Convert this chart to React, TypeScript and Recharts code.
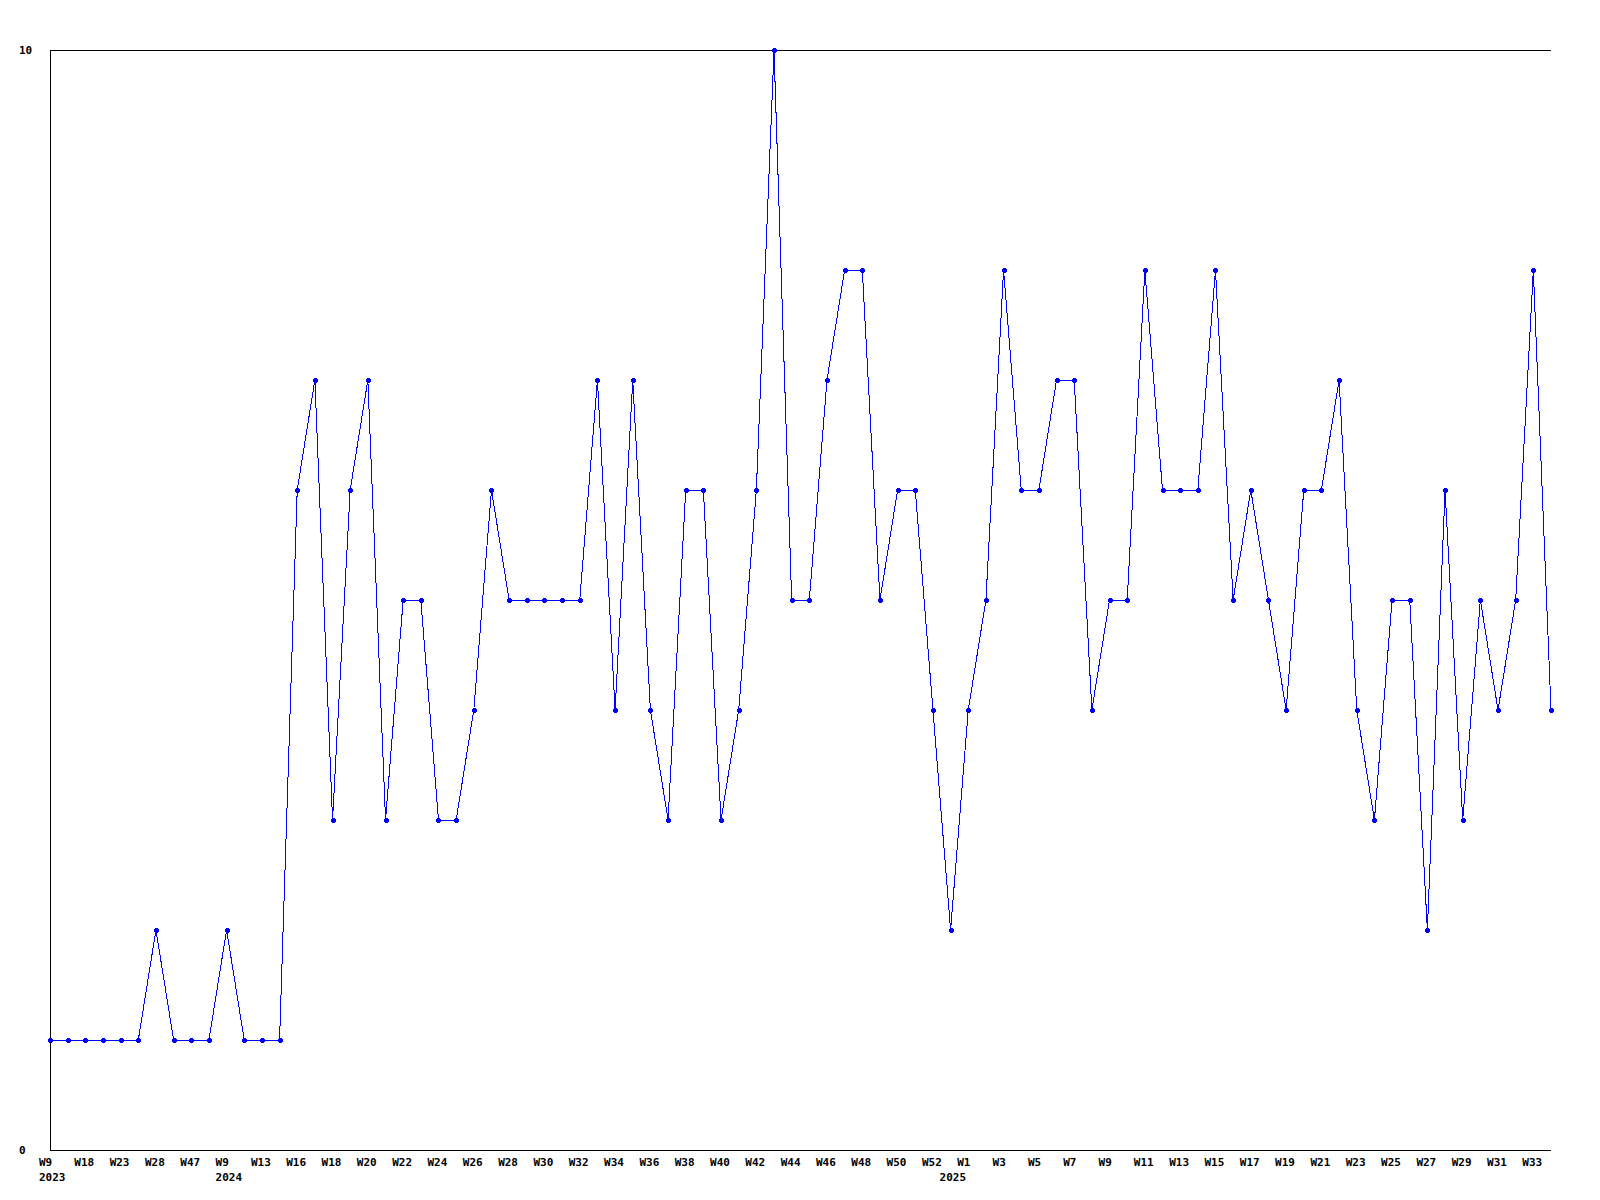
import { LineChart, Line, XAxis, YAxis, ReferenceLine } from 'recharts'

// week numbers per year, in plotting order
const weeks2023 = [9, 13, 18, 20, 23, 25, 28, 40, 47, 50]
const weeks2024 = [
  9, 11, 13, 15, 16, 17, 18, 19, 20, 21, 22, 23, 24, 25, 26, 27, 28, 29, 30, 31, 32,
  33, 34, 35, 36, 37, 38, 39, 40, 41, 42, 43, 44, 45, 46, 47, 48, 49, 50, 51, 52,
]
const weeks2025 = [
  0, 1, 2, 3, 4, 5, 6, 7, 8, 9, 10, 11, 12, 13, 14, 15, 16, 17, 18, 19, 20, 21, 22,
  23, 24, 25, 26, 27, 28, 29, 30, 31, 32, 33, 34,
]

const counts = [
  1, 1, 1, 1, 1, 1, 2, 1, 1, 1,
  2, 1, 1, 1, 6, 7, 3, 6, 7, 3,
  5, 5, 3, 3, 4, 6, 5, 5, 5, 5,
  5, 7, 4, 7, 4, 3, 6, 6, 3, 4,
  6, 10, 5, 5, 7, 8, 8, 5, 6, 6,
  4, 2, 4, 5, 8, 6, 6, 7, 7, 4,
  5, 5, 8, 6, 6, 6, 8, 5, 6, 5,
  4, 6, 6, 7, 4, 3, 5, 5, 2, 6,
  3, 5, 4, 5, 8, 4,
]

const yTicks = [0, 10]

const weekRows = [
  ...weeks2023.map((w) => ({ year: '2023', w })),
  ...weeks2024.map((w) => ({ year: '2024', w })),
  ...weeks2025.map((w) => ({ year: '2025', w })),
]

const data = weekRows.map((r, i) => ({
  week: `W${r.w}`,
  year: r.year,
  firstOfYear: i === 0 || weekRows[i - 1].year !== r.year,
  count: counts[i],
}))

const FONT = '"DejaVu Sans Mono", monospace'

const WeekTick = ({ x, index }: any) => {
  const d = data[index]
  if (!d) return null
  return (
    <g>
      {index % 2 === 0 && (
        <text x={x - 11} y={1166} fontFamily={FONT} fontWeight="bold" fontSize={11} fill="#000">
          {d.week}
        </text>
      )}
      {d.firstOfYear && (
        <text x={x - 11} y={1181} fontFamily={FONT} fontWeight="bold" fontSize={11} fill="#000">
          {d.year}
        </text>
      )}
    </g>
  )
}

const ValueTick = ({ y, payload }: any) => (
  <text x={19} y={y + 4} fontFamily={FONT} fontWeight="bold" fontSize={11} fill="#000">
    {payload.value}
  </text>
)

const PlusDot = ({ cx, cy }: any) => {
  if (cx == null || cy == null) return null
  const x = Math.round(cx) - 2
  const y = Math.round(cy) - 2
  return (
    <path
      d={`M${x + 1},${y}h3v1h1v3h-1v1h-3v-1h-1v-3h1z`}
      fill="#0000ff"
      shapeRendering="crispEdges"
    />
  )
}

export default function App() {
  return (
    <div style={{ position: 'absolute', left: 0, top: 0, width: 1600, height: 1200, background: '#fff' }}>
      <LineChart width={1600} height={1200} data={data} margin={{ top: 50, right: 49, left: 0, bottom: 0 }}>
        <XAxis
          dataKey="week"
          height={50}
          interval={0}
          tickLine={false}
          axisLine={{ stroke: '#000', strokeWidth: 1, shapeRendering: 'crispEdges' }}
          tick={<WeekTick />}
        />
        <YAxis
          width={50}
          domain={[0, 10]}
          ticks={yTicks}
          tickLine={false}
          axisLine={{ stroke: '#000', strokeWidth: 1, shapeRendering: 'crispEdges' }}
          tick={<ValueTick />}
        />
        <ReferenceLine y={10} stroke="#000" strokeWidth={1} shapeRendering="crispEdges" />
        <Line
          type="linear"
          dataKey="count"
          stroke="#0000ff"
          strokeWidth={1}
          shapeRendering="crispEdges"
          dot={(p: any) => <PlusDot key={`dot-${p.index}`} {...p} />}
          activeDot={false}
          isAnimationActive={false}
        />
      </LineChart>
    </div>
  )
}
